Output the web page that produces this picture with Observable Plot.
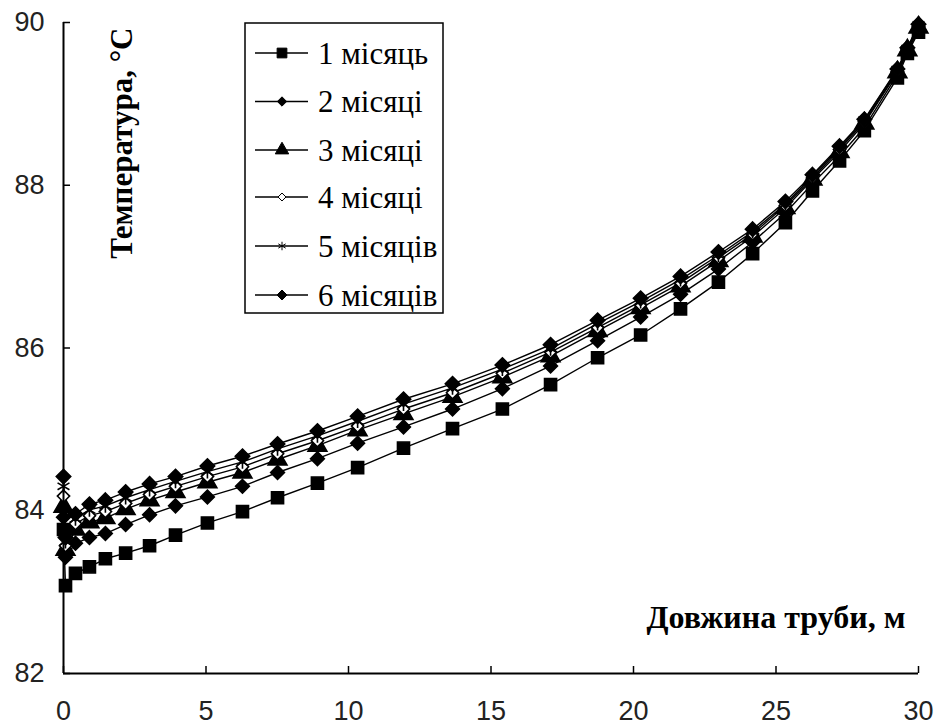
<!DOCTYPE html>
<html><head><meta charset="utf-8">
<script src="https://cdn.jsdelivr.net/npm/d3@7"></script>
<script src="https://cdn.jsdelivr.net/npm/@observablehq/plot@0.6"></script>
<style>
body{margin:0;background:#fff}
#chart{position:relative;width:935px;height:727px}
</style>
</head><body><div id="chart"></div>
<script>
// Pipe length, m
const lengths = [0, 0.07, 0.42, 0.91, 1.47, 2.18, 3.02, 3.93, 5.05, 6.28, 7.51, 8.91, 10.32, 11.93, 13.65, 15.4, 17.09, 18.74, 20.25, 21.65, 22.98, 24.18, 25.33, 26.28, 27.23, 28.1, 29.26, 29.61, 30];
// Temperature, °C
const month1 = [83.77, 83.08, 83.23, 83.31, 83.41, 83.48, 83.57, 83.70, 83.85, 83.99, 84.16, 84.34, 84.53, 84.77, 85.01, 85.25, 85.55, 85.88, 86.16, 86.48, 86.81, 87.16, 87.54, 87.93, 88.30, 88.67, 89.32, 89.62, 89.88];
const month2 = [83.92, 83.43, 83.60, 83.67, 83.72, 83.83, 83.95, 84.06, 84.17, 84.30, 84.47, 84.64, 84.83, 85.03, 85.25, 85.50, 85.78, 86.09, 86.38, 86.66, 86.97, 87.30, 87.66, 88.02, 88.36, 88.71, 89.36, 89.64, 89.91];
const month3 = [84.05, 83.52, 83.77, 83.86, 83.91, 84.02, 84.13, 84.23, 84.35, 84.47, 84.63, 84.80, 84.99, 85.19, 85.40, 85.64, 85.90, 86.21, 86.49, 86.76, 87.07, 87.37, 87.72, 88.07, 88.41, 88.76, 89.39, 89.66, 89.94];
const month4 = [84.18, 83.57, 83.84, 83.94, 83.99, 84.09, 84.20, 84.30, 84.42, 84.54, 84.70, 84.86, 85.04, 85.25, 85.45, 85.69, 85.95, 86.25, 86.53, 86.80, 87.11, 87.40, 87.75, 88.09, 88.44, 88.78, 89.40, 89.67, 89.95];
const month5 = [84.30, 83.62, 83.90, 84.01, 84.06, 84.16, 84.26, 84.36, 84.48, 84.60, 84.76, 84.92, 85.10, 85.31, 85.51, 85.74, 85.99, 86.30, 86.57, 86.84, 87.14, 87.43, 87.77, 88.11, 88.46, 88.80, 89.42, 89.68, 89.97];
const month6 = [84.42, 83.67, 83.96, 84.08, 84.13, 84.23, 84.33, 84.42, 84.55, 84.67, 84.82, 84.98, 85.16, 85.37, 85.56, 85.79, 86.04, 86.34, 86.61, 86.88, 87.18, 87.46, 87.80, 88.13, 88.48, 88.81, 89.43, 89.69, 89.98];
const seriesNames = ["1 місяць", "2 місяці", "3 місяці", "4 місяці", "5 місяців", "6 місяців"];
const xTicks = [0, 5, 10, 15, 20, 25, 30];
const yTicks = [82, 84, 86, 88, 90];
const xLabel = "Довжина труби, м";
const yLabel = "Температура, °С";

const allSeries = [month1, month2, month3, month4, month5, month6];
const rows = [];
allSeries.forEach((vals, i) => vals.forEach((v, j) => rows.push({x: lengths[j], t: v, s: seriesNames[i]})));

const specs = [
  {symbol: "square", fill: "black", stroke: "black", r: 6.8, lr: 5.5},
  {symbol: "diamond2", fill: "black", stroke: "black", r: 6.2, lr: 4.2},
  {symbol: "triangle", fill: "black", stroke: "black", r: 7, lr: 5},
  {symbol: "diamond2", fill: "white", stroke: "black", r: 5.5, lr: 3.6},
  {symbol: "asterisk", fill: "none", stroke: "black", r: 6.5, lr: 4},
  {symbol: "diamond2", fill: "black", stroke: "black", r: 6.5, lr: 4.5}
];

const W = 935, H = 727, mL = 63, mR = 17, mT = 22, mB = 54;
const pw = W - mL - mR, ph = H - mT - mB;
const tickFont = "Liberation Sans, Arial, sans-serif";
const serif = "'Liberation Serif', 'Times New Roman', serif";

const marks = [
  Plot.line(rows, {x: "x", y: "t", z: "s", stroke: "black", strokeWidth: 1.4}),
  ...seriesNames.map((name, i) => Plot.dot(rows.filter(d => d.s === name), {
    x: "x", y: "t", symbol: () => specs[i].symbol, r: specs[i].r,
    fill: specs[i].fill, stroke: specs[i].stroke, strokeWidth: 1.6
  })),
  Plot.ruleX([0], {stroke: "black", strokeWidth: 2}),
  Plot.ruleY([82], {stroke: "black", strokeWidth: 2}),
  Plot.tickX(xTicks, {x: d => d, insetTop: ph - 7, stroke: "black", strokeWidth: 1.5}),
  Plot.tickY(yTicks, {y: d => d, insetRight: pw - 7, stroke: "black", strokeWidth: 1.5}),
  Plot.axisX({ticks: xTicks, tickSize: 0, tickPadding: 27, fontSize: 27, fontFamily: tickFont, label: null, fill: "#222"}),
  Plot.axisY({ticks: yTicks, tickSize: 0, tickPadding: 19, fontSize: 27, fontFamily: tickFont, label: null, fill: "#222"}),
  Plot.text([xLabel], {frameAnchor: "bottom-right", textAnchor: "end", lineAnchor: "middle", dx: -13, dy: -56,
    fontSize: 32, fontWeight: "bold", fontFamily: serif, fill: "black"}),
  Plot.text([yLabel], {frameAnchor: "top-left", textAnchor: "end", lineAnchor: "middle", rotate: -90, dx: 59, dy: 5,
    fontSize: 31, fontWeight: "bold", fontFamily: serif, fill: "black"})
];

const chart = Plot.plot({
  width: W, height: H,
  marginLeft: mL, marginRight: mR, marginTop: mT, marginBottom: mB,
  x: {domain: [0, 30]},
  y: {domain: [82, 90]},
  style: {background: "white", overflow: "visible"},
  marks
});
document.getElementById("chart").appendChild(chart);

// Legend box
const svg = d3.select(chart);
const lg = svg.append("g").attr("class", "legend").attr("text-anchor", "start")
  .attr("font-family", serif);
lg.append("rect").attr("x", 245).attr("y", 23).attr("width", 198).attr("height", 290)
  .attr("fill", "white").attr("stroke", "black").attr("stroke-width", 1.5);
const rowY = [53, 101.5, 150, 197, 246, 295];
const symMap = {square: d3.symbolSquare, diamond2: d3.symbolDiamond2, triangle: d3.symbolTriangle, asterisk: d3.symbolAsterisk};
seriesNames.forEach((name, i) => {
  const y = rowY[i];
  lg.append("line").attr("x1", 255).attr("x2", 308).attr("y1", y).attr("y2", y).attr("stroke", "black").attr("stroke-width", 1.3);
  lg.append("path").attr("transform", `translate(282,${y})`)
    .attr("d", d3.symbol(symMap[specs[i].symbol], Math.PI * specs[i].lr * specs[i].lr)())
    .attr("fill", specs[i].fill).attr("stroke", specs[i].stroke).attr("stroke-width", 1);
  lg.append("text").attr("x", 318).attr("y", y).attr("dy", "0.35em").attr("text-anchor", "start")
    .style("font-family", serif).style("font-size", "31px").attr("fill", "black").text(name);
});
</script>
</body></html>
